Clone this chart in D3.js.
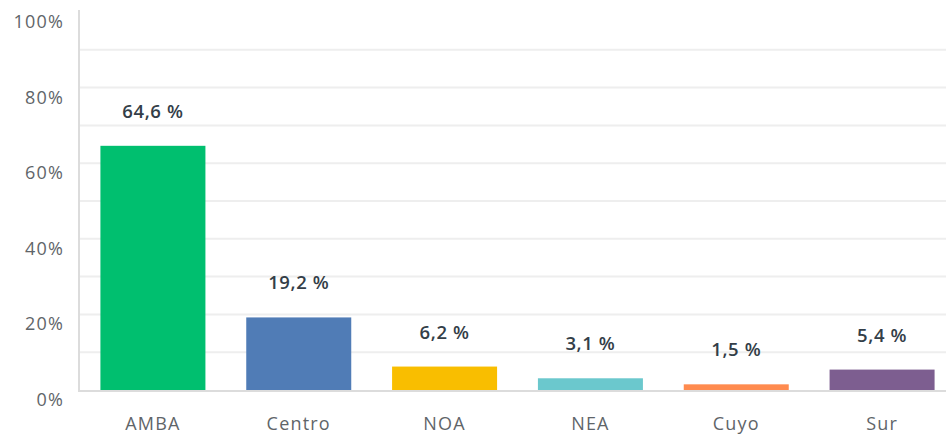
<!DOCTYPE html>
<html>
<head>
<meta charset="utf-8">
<script src="https://cdn.jsdelivr.net/npm/d3@7"></script>
<style>
  html, body { margin: 0; padding: 0; background: #fff; }
  svg { display: block; font-family: "Open Sans", Lato, sans-serif; }
  .tick-y { fill: #5f6569; font-size: 18px; letter-spacing: 1.2px; }
  .tick-x { fill: #5f6569; font-size: 18px; letter-spacing: 1.2px; }
  .val { fill: #333e48; font-size: 18.5px; font-weight: 600; letter-spacing: 0.6px; }
</style>
</head>
<body>
<svg id="chart" width="946" height="434"></svg>
<script>
// data
const categories = ["AMBA", "Centro", "NOA", "NEA", "Cuyo", "Sur"];
const values = [64.6, 19.2, 6.2, 3.1, 1.5, 5.4];
const colors = ["#00bf6f", "#507cb6", "#f9be00", "#6bc8cd", "#ff8b4f", "#7d5e90"];
const yTicks = [0, 20, 40, 60, 80, 100];
const gridTicks = [10, 20, 30, 40, 50, 60, 70, 80, 90];

const svg = d3.select("#chart");

const x = d3.scaleBand()
  .domain(categories)
  .range([80, 955])
  .paddingInner(0.28)
  .paddingOuter(0.14);

const y = d3.scaleLinear()
  .domain([0, 100])
  .range([390, 12]);

// gridlines
svg.append("g")
  .selectAll("line")
  .data(gridTicks)
  .join("line")
  .attr("x1", 80).attr("x2", 946)
  .attr("y1", d => y(d)).attr("y2", d => y(d))
  .attr("stroke", "#eeeeee")
  .attr("stroke-width", 2);

// y labels (sit a little below their gridline, like the original)
svg.append("g")
  .selectAll("text")
  .data(yTicks)
  .join("text")
  .attr("class", "tick-y")
  .attr("x", 64)
  .attr("y", d => y(d) + 16)
  .attr("text-anchor", "end")
  .text(d => d + "%");

// bars
svg.append("g")
  .selectAll("rect")
  .data(categories)
  .join("rect")
  .attr("x", d => x(d))
  .attr("width", x.bandwidth())
  .attr("y", (d, i) => y(values[i]))
  .attr("height", (d, i) => y(0) - y(values[i]))
  .attr("fill", (d, i) => colors[i]);

// value labels
svg.append("g")
  .selectAll("text")
  .data(categories)
  .join("text")
  .attr("class", "val")
  .attr("x", d => x(d) + x.bandwidth() / 2)
  .attr("y", (d, i) => y(values[i]) - 28)
  .attr("text-anchor", "middle")
  .text((d, i) => d3.format(".1f")(values[i]).replace(".", ",") + " %");

// category labels
svg.append("g")
  .selectAll("text")
  .data(categories)
  .join("text")
  .attr("class", "tick-x")
  .attr("x", d => x(d) + x.bandwidth() / 2)
  .attr("y", 430)
  .attr("text-anchor", "middle")
  .text(d => d);

// axes lines
svg.append("line")
  .attr("x1", 79).attr("x2", 79)
  .attr("y1", 10).attr("y2", 391)
  .attr("stroke", "#dcdcdc").attr("stroke-width", 2);
svg.append("line")
  .attr("x1", 78).attr("x2", 946)
  .attr("y1", 391).attr("y2", 391)
  .attr("stroke", "#dcdcdc").attr("stroke-width", 2);
</script>
</body>
</html>
